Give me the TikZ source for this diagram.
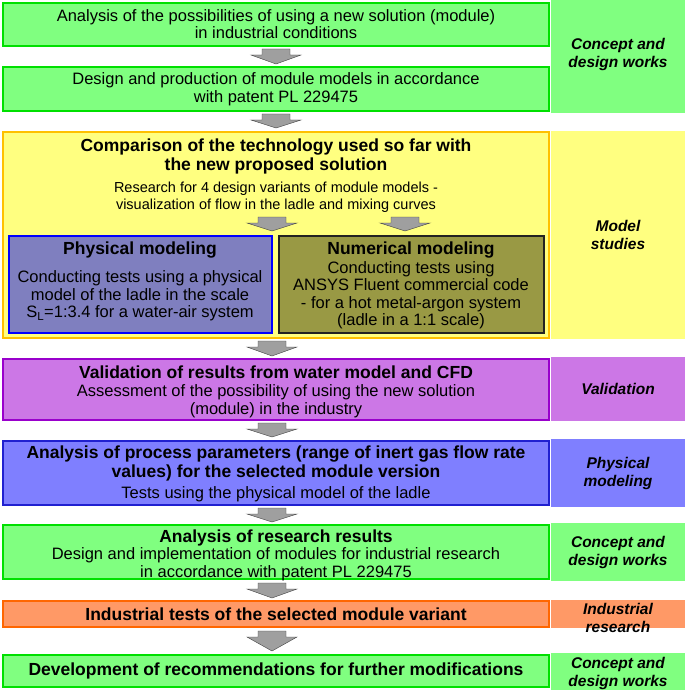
\documentclass[tikz,border=0pt]{standalone}
\usepackage{fontspec}
\setmainfont{Liberation Sans}
\begin{document}
\begin{tikzpicture}[x=1pt,y=-1pt,
  box/.style={draw,line width=2.2pt,align=center,inner sep=0pt},
  lab/.style={font=\fontsize{15.5}{18}\selectfont\bfseries\itshape,align=center},
  body/.style={font=\fontsize{16.5}{17.5}\selectfont,align=center},
  ttl/.style={font=\fontsize{17.5}{19}\selectfont\bfseries,align=center},
  garrow/.style={fill=gray!75,draw=gray!50!black,line width=0.4pt}]
\definecolor{gfill}{HTML}{80FF80}\definecolor{gline}{HTML}{00E000}
\definecolor{yfill}{HTML}{FFFF80}\definecolor{yline}{HTML}{FFC000}
\definecolor{pfill}{HTML}{7F7FBF}\definecolor{pline}{HTML}{0000FF}
\definecolor{nfill}{HTML}{999944}\definecolor{nline}{HTML}{222222}
\definecolor{vfill}{HTML}{CC77E6}\definecolor{vline}{HTML}{9900CC}
\definecolor{bfill}{HTML}{7F7FFF}\definecolor{bline}{HTML}{2020D0}
\definecolor{ofill}{HTML}{FF9966}\definecolor{oline}{HTML}{FF6600}
\useasboundingbox (0,0) rectangle (685,690);
\newcommand\garr[3]{% x, ytop, ybottom
  \path[garrow] (#1-14,#2) -- (#1+14,#2) -- (#1+14,#2+6) -- (#1+25,#2+6) -- (#1,#3) -- (#1-25,#2+6) -- (#1-14,#2+6) -- cycle;}
% right labels
\fill[gfill] (551,0) rectangle (685,113);
\node[lab] (l1) at (618,54) {Concept and\\design works};
\fill[yfill] (551,131) rectangle (685,339);
\node[lab] (l2) at (618,235) {Model\\studies};
\fill[vfill] (551,357) rectangle (685,421);
\node[lab] (l3) at (618,389) {Validation};
\fill[bfill] (551,439) rectangle (685,507);
\node[lab] (l4) at (618,473) {Physical\\modeling};
\fill[gfill] (551,523) rectangle (685,581);
\node[lab] (l5) at (618,552) {Concept and\\design works};
\fill[ofill] (551,600) rectangle (685,628);
\node[lab] (l6) at (618,618) {Industrial\\research};
\fill[gfill] (551,653) rectangle (685,690);
\node[lab] (l7) at (618,673) {Concept and\\design works};
% boxes
\draw[box,draw=gline,fill=gfill] (3,3) rectangle (549,46);
\node[body] (b1) at (276,24) {Analysis of the possibilities of using a new solution (module)\\in industrial conditions};
\garr{276}{49}{64}
\draw[box,draw=gline,fill=gfill] (3,67) rectangle (549,111);
\node[body] (b2) at (276,89) {Design and production of module models in accordance\\with patent PL 229475};
\garr{276}{114}{128}
\draw[box,draw=yline,fill=yfill] (3,132) rectangle (549,338);
\node[ttl] (b3) at (276,156) {Comparison of the technology used so far with\\the new proposed solution};
\node[body,font=\fontsize{14.5}{16.5}\selectfont] (b3b) at (276,197) {Research for 4 design variants of module models -\\visualization of flow in the ladle and mixing curves};
\garr{272}{217}{231}
\garr{405}{217}{231}
\draw[box,draw=pline,fill=pfill] (9,236) rectangle (272,333);
\node[ttl] (p1) at (140,250) {Physical modeling};
\node[body] (p2) at (140,296) {Conducting tests using a physical\\model of the ladle in the scale\\S\textsubscript{L}=1:3.4 for a water-air system};
\draw[box,draw=nline,fill=nfill] (279,236) rectangle (544,333);
\node[ttl] (n1) at (411,250) {Numerical modeling};
\node[body] (n2) at (411,295) {Conducting tests using\\ANSYS Fluent commercial code\\- for a hot metal-argon system\\(ladle in a 1:1 scale)};
\garr{272}{341}{356}
\draw[box,draw=vline,fill=vfill] (3,359) rectangle (549,420);
\node[ttl] (v1) at (276,372) {Validation of results from water model and CFD};
\node[body] (v2) at (276,401) {Assessment of the possibility of using the new solution\\(module) in the industry};
\garr{272}{423}{437}
\draw[box,draw=bline,fill=bfill] (3,441) rectangle (549,505);
\node[ttl] (a1) at (276,463) {Analysis of process parameters (range of inert gas flow rate\\values) for the selected module version};
\node[body] (a2) at (276,494) {Tests using the physical model of the ladle};
\garr{272}{508}{522}
\draw[box,draw=gline,fill=gfill] (3,525) rectangle (549,579);
\node[ttl] (r1) at (276,538) {Analysis of research results};
\node[body] (r2) at (276,564) {Design and implementation of modules for industrial research\\in accordance with patent PL 229475};
\garr{272}{583}{598}
\draw[box,draw=oline,fill=ofill] (3,601) rectangle (549,627);
\node[ttl] (i1) at (276,614) {Industrial tests of the selected module variant};
\garr{272}{631}{651}
\draw[box,draw=gline,fill=gfill] (3,655) rectangle (549,687);
\node[ttl] (d1) at (276,671) {Development of recommendations for further modifications};
\end{tikzpicture}
\end{document}
